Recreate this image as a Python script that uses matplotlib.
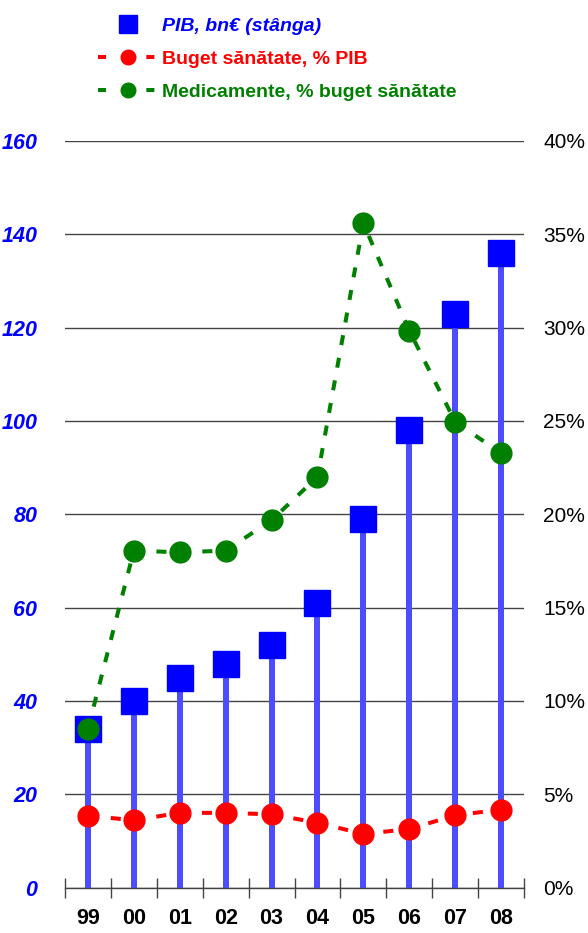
import matplotlib
matplotlib.use("Agg")
import matplotlib.pyplot as plt
from matplotlib.lines import Line2D
from matplotlib.ticker import FuncFormatter, MultipleLocator

plt.rcParams["font.family"] = ["Liberation Sans", "DejaVu Sans"]

years = ["99", "00", "01", "02", "03", "04", "05", "06", "07", "08"]
pib = [34, 40, 45, 48, 52, 61, 79, 98, 123, 136]
buget_pct_pib = [3.85, 3.6, 4.0, 4.0, 3.92, 3.47, 2.87, 3.13, 3.87, 4.17]
medicamente_pct = [8.5, 18.05, 17.96, 18.05, 19.68, 22.0, 35.6, 29.84, 24.96, 23.27]

blue = "#0000FF"
bar_blue = "#4D4DFF"
red = "#FF0000"
green = "#008000"

fig = plt.figure(figsize=(5.88, 9.33), dpi=100)
ax = fig.add_axes([65 / 588, 1 - 887.5 / 933, 459 / 588, 746.5 / 933])
x = list(range(len(years)))

ax.bar(x, pib, width=0.13, color=bar_blue, zorder=2)
ax.plot(x, pib, linestyle="none", marker="s", markersize=18.5, color=blue, zorder=3)

ax.set_xlim(-0.5, len(years) - 0.5)
ax.set_ylim(0, 160)
ax.yaxis.set_major_locator(MultipleLocator(20))
ax.grid(axis="y", color="#444444", linewidth=1.0, zorder=0)
for s in ("left", "right", "top"):
    ax.spines[s].set_visible(False)
ax.spines["bottom"].set_color("#444444")
ax.spines["bottom"].set_linewidth(1.0)

ax.set_xticks([i - 0.5 for i in range(len(years) + 1)])
ax.set_xticklabels([])
ax.set_xticks(x, minor=True)
ax.set_xticklabels(years, minor=True, fontsize=15.5, fontweight="bold")
ax.tick_params(axis="x", which="major", direction="inout", length=14, width=1, color="#444444")
ax.tick_params(axis="x", which="minor", length=0, pad=15)
ax.tick_params(axis="y", length=0, pad=20)
for lbl in ax.get_yticklabels():
    lbl.set_color(blue)
    lbl.set_fontweight("bold")
    lbl.set_fontstyle("italic")
    lbl.set_fontsize(15.5)

ax2 = ax.twinx()
ax2.set_ylim(0, 40)
ax2.yaxis.set_major_locator(MultipleLocator(5))
ax2.yaxis.set_major_formatter(FuncFormatter(lambda v, _: f"{v:.0f}%"))
ax2.tick_params(axis="y", length=0, pad=14, labelsize=15)
for s in ax2.spines.values():
    s.set_visible(False)

ax2.plot(x, buget_pct_pib, color=red, linewidth=2.9, dashes=(2.5, 3.2),
         marker="o", markersize=15, zorder=4)
ax2.plot(x, medicamente_pct, color=green, linewidth=2.9, dashes=(2.5, 3.2),
         marker="o", markersize=15, zorder=4)

handles = [
    Line2D([], [], linestyle="none", marker="s", markersize=12.5, color=blue),
    Line2D([], [], color=red, linewidth=2.9, dashes=(2, 10), marker="o", markersize=10.5),
    Line2D([], [], color=green, linewidth=2.9, dashes=(2, 10), marker="o", markersize=10.5),
]
labels = ["PIB, bn€ (stânga)", "Buget sănătate, % PIB", "Medicamente, % buget sănătate"]
leg = fig.legend(handles, labels, loc="upper left", bbox_to_anchor=(81 / 588, 1.0),
                 frameon=False, handlelength=3.0, handletextpad=0.25,
                 labelspacing=0.78, prop={"weight": "bold", "size": 14})
for txt, col in zip(leg.get_texts(), [blue, red, green]):
    txt.set_color(col)
leg.get_texts()[0].set_fontstyle("italic")

fig.savefig("out.png", dpi=100)
